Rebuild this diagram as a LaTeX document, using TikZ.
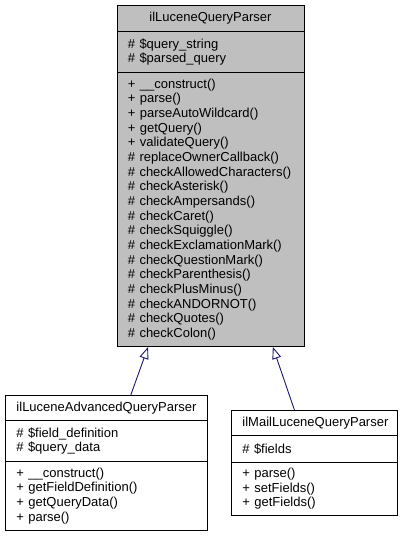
\documentclass[tikz,border=0pt]{standalone}
\usepackage{fontspec}
\setmainfont{Liberation Sans}
\usetikzlibrary{arrows.meta,calc}
\definecolor{edgeblue}{HTML}{191970}
\definecolor{basegray}{HTML}{BFBFBF}
\tikzset{
  classpart/.style={draw=black, line width=0.9pt, anchor=north west, inner xsep=11pt, inner ysep=0pt, align=left,
    font=\fontsize{13}{14.65}\selectfont},
  inherit/.style={draw=edgeblue, line width=0.9pt, -{Triangle[open, length=12pt, width=9pt]}}
}
\begin{document}
\begin{tikzpicture}[x=1pt, y=-1pt]
\useasboundingbox (0,0) rectangle (403,536);
% base class
\node[classpart, fill=basegray, text width=165pt, minimum height=26pt, align=center] (baseT) at (116.5,5) {ilLuceneQueryParser};
\node[classpart, fill=basegray, text width=165pt, minimum height=41pt] (baseA) at (116.5,31) {\# \$query\_string\\\# \$parsed\_query};
\node[classpart, fill=basegray, text width=165pt, minimum height=274pt] (baseM) at (116.5,72) {+ \_\_construct()\\+ parse()\\+ parseAutoWildcard()\\+ getQuery()\\+ validateQuery()\\\# replaceOwnerCallback()\\\# checkAllowedCharacters()\\\# checkAsterisk()\\\# checkAmpersands()\\\# checkCaret()\\\# checkSquiggle()\\\# checkExclamationMark()\\\# checkQuestionMark()\\\# checkParenthesis()\\\# checkPlusMinus()\\\# checkANDORNOT()\\\# checkQuotes()\\\# checkColon()};
% derived classes
\node[classpart, fill=white, text width=180pt, minimum height=25pt, align=center] (advT) at (5,395) {ilLuceneAdvancedQueryParser};
\node[classpart, fill=white, text width=180pt, minimum height=41pt] (advA) at (5,420) {\# \$field\_definition\\\# \$query\_data};
\node[classpart, fill=white, text width=180pt, minimum height=69pt] (advM) at (5,461) {+ \_\_construct()\\+ getFieldDefinition()\\+ getQueryData()\\+ parse()};
\node[classpart, fill=white, text width=144pt, minimum height=25pt, align=center] (mailT) at (231,410) {ilMailLuceneQueryParser};
\node[classpart, fill=white, text width=144pt, minimum height=27pt] (mailA) at (231,435) {\# \$fields};
\node[classpart, fill=white, text width=144pt, minimum height=53pt] (mailM) at (231,462) {+ parse()\\+ setFields()\\+ getFields()};
% inheritance
\draw[inherit] ($(advT.north west)!0.62!(advT.north east)$) -- ($(baseM.south west)!0.168!(baseM.south east)$);
\draw[inherit] ($(mailT.north west)!0.38!(mailT.north east)$) -- ($(baseM.south west)!0.832!(baseM.south east)$);
\end{tikzpicture}
\end{document}
